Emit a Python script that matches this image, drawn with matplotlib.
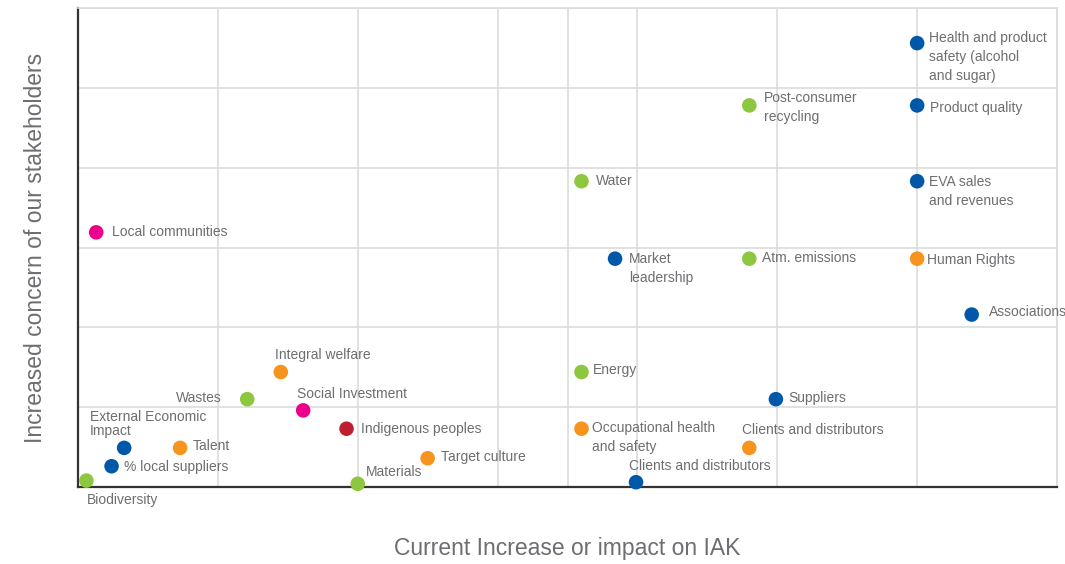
import matplotlib.pyplot as plt

# Materiality matrix: impact on IAK (x) vs. stakeholder concern (y)
topics = [
    "Health and product\nsafety (alcohol\nand sugar)", "Product quality",
    "Post-consumer\nrecycling", "Water", "EVA sales\nand revenues",
    "Local communities", "Market\nleadership", "Atm. emissions",
    "Human Rights", "Associations", "Integral welfare", "Energy", "Wastes",
    "Social Investment", "Suppliers", "Indigenous peoples",
    "Occupational health\nand safety", "External Economic\nImpact", "Talent",
    "Clients and distributors", "% local suppliers", "Target culture",
    "Biodiversity", "Materials", "Clients and distributors",
]
impact = [6.0, 6.0, 4.8, 3.6, 6.0, 0.13, 3.84, 4.8, 6.0, 6.39, 1.45, 3.6,
          1.21, 1.61, 4.99, 1.92, 3.6, 0.33, 0.73, 4.8, 0.24, 2.5, 0.06,
          2.0, 3.99]
concern = [5.56, 4.78, 4.78, 3.83, 3.83, 3.19, 2.86, 2.86, 2.86, 2.16, 1.44,
           1.44, 1.1, 0.96, 1.1, 0.73, 0.73, 0.49, 0.49, 0.49, 0.26, 0.36,
           0.08, 0.04, 0.06]
group = ["economic", "economic", "environment", "environment", "economic",
         "community", "economic", "environment", "social", "economic",
         "social", "environment", "environment", "community", "economic",
         "indigenous", "social", "economic", "social", "social", "economic",
         "social", "environment", "environment", "economic"]

palette = {
    "economic": "#0158a8",
    "environment": "#8dc63f",
    "social": "#f7941d",
    "community": "#ec008c",
    "indigenous": "#be1e2d",
}

# label offsets in pixels (dx, dy, ha, va)
label_pos = [
    (12, 12, "left", "top"), (13, -3, "left", "center"),
    (15, -2, "left", "center"), (14, 0, "left", "center"),
    (12, -10, "left", "center"), (16, 0, "left", "center"),
    (14, -10, "left", "center"), (13, 1, "left", "center"),
    (10, -1, "left", "center"), (17, 3, "left", "center"),
    (-6, 17, "left", "center"), (11, 2, "left", "center"),
    (-26, 1, "right", "center"), (-6, 16, "left", "center"),
    (12, 1, "left", "center"), (14, 0, "left", "center"),
    (11, -9, "left", "center"), (-34, 24, "left", "center"),
    (13, 2, "left", "center"), (-7, 18, "left", "center"),
    (12, -1, "left", "center"), (13, 1, "left", "center"),
    (0, -19, "left", "center"), (8, 12, "left", "center"),
    (-7, 16, "left", "center"),
]

plt.rcParams["font.family"] = ["Liberation Sans", "DejaVu Sans"]

fig = plt.figure(figsize=(10.65, 5.64), dpi=100)
ax = fig.add_axes([78 / 1065, 1 - 487 / 564, 979 / 1065, 479 / 564])

ax.set_xlim(0, 7)
ax.set_ylim(0, 6)
ax.set_xticks([0, 1, 2, 3, 3.5, 4, 5, 6, 7])
ax.set_yticks(range(7))
ax.tick_params(length=0, labelbottom=False, labelleft=False)
ax.grid(True, color="#dcdcdc", linewidth=1.2)
ax.set_axisbelow(True)

for side in ["top", "right"]:
    ax.spines[side].set_color("#dcdcdc")
    ax.spines[side].set_linewidth(1.2)
for side in ["left", "bottom"]:
    ax.spines[side].set_color("#333333")
    ax.spines[side].set_linewidth(1.6)

ax.scatter(impact, concern, s=110, c=[palette[g] for g in group],
           linewidths=0, zorder=3, clip_on=False)

for name, x, y, (dx, dy, ha, va) in zip(topics, impact, concern, label_pos):
    ls = 1.05 if name.startswith("External") else 1.45
    ax.annotate(name, (x, y), xytext=(dx, dy), textcoords="offset pixels",
                ha=ha, va=va, fontsize=10, color="#6d6e71",
                linespacing=ls, annotation_clip=False)

ax.set_xlabel("Current Increase or impact on IAK", fontsize=16.5,
              color="#6d6e71", labelpad=36)
ax.set_ylabel("Increased concern of our stakeholders", fontsize=16.5,
              color="#6d6e71", labelpad=22)

fig.savefig("out.png", dpi=100)
